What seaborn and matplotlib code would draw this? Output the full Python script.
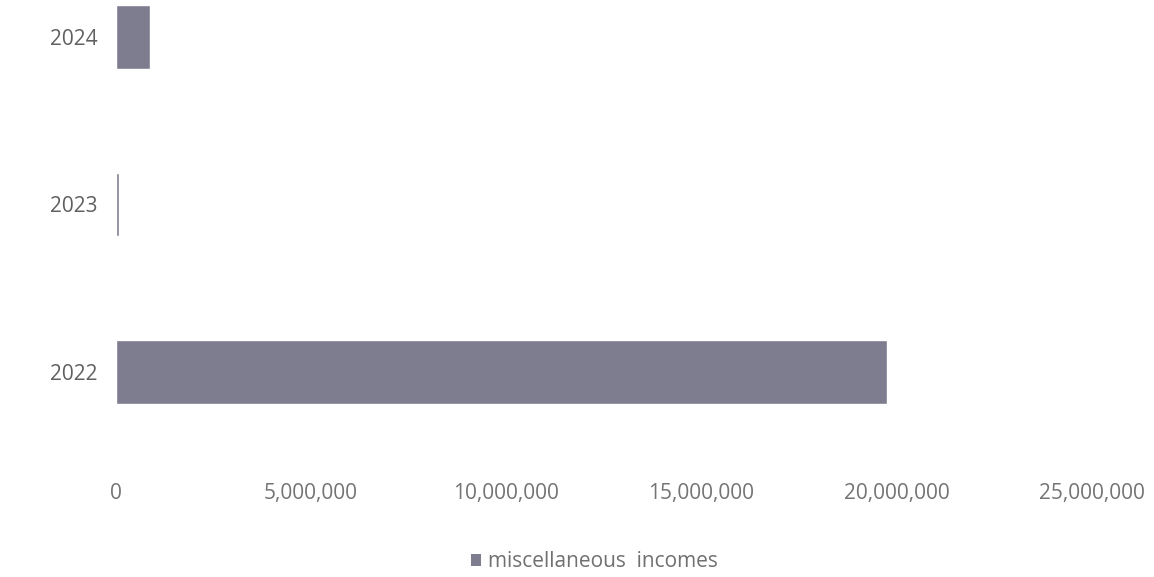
import pandas as pd
import matplotlib
matplotlib.use('Agg')
import matplotlib.pyplot as plt
from matplotlib.patches import Patch
import seaborn as sns

years = ['2024', '2023', '2022']
incomes = [870000, 80000, 19750000]
x_ticks = [0, 5000000, 10000000, 15000000, 20000000, 25000000]
series_name = 'miscellaneous  incomes'

sns.set_theme(style="white")
plt.rcParams['font.family'] = ['Open Sans', 'DejaVu Sans']

df = pd.DataFrame({'Year': years, 'Income': incomes})

fig = plt.figure(figsize=(11.54, 5.77), dpi=100)
ax = fig.add_axes([0.1005, 0.2114, 0.8455, 0.7886])

bar_color = '#7d7d8f'
sns.barplot(data=df, x='Income', y='Year', order=years, orient='h',
            color=bar_color, width=0.38, ax=ax, saturation=1)

ax.set_xlim(0, 25000000)
ax.set_ylim(2.496, -0.221)
ax.set_xticks(x_ticks)
ax.set_xticklabels([f'{v:,}' for v in x_ticks])
ax.set_xlabel('')
ax.set_ylabel('')
sns.despine(ax=ax, left=True, bottom=True)
ax.tick_params(axis='x', length=0, pad=20, labelsize=15, labelcolor='#747474')
ax.tick_params(axis='y', length=0, pad=13, labelsize=15, labelcolor='#606060')
ax.grid(False)

handles = [Patch(facecolor=bar_color, edgecolor='none', label=series_name)]
fig.legend(handles=handles, loc='center', bbox_to_anchor=(0.515, 0.026),
           frameon=False, fontsize=15, labelcolor='#707070',
           handlelength=0.5, handleheight=0.5, handletextpad=0.3)

plt.savefig('out.png', dpi=100)
